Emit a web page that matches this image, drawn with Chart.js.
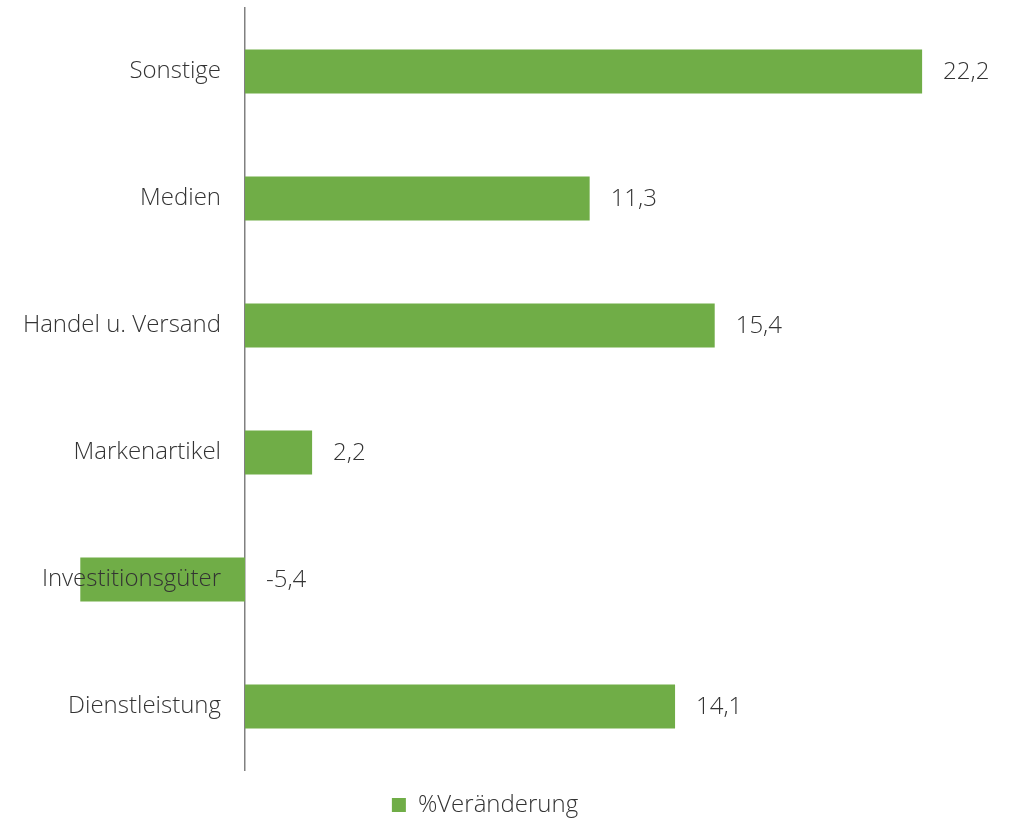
<!DOCTYPE html>
<html><head><meta charset="utf-8">
<script src="https://cdn.jsdelivr.net/npm/chart.js@4"></script>
<style>html,body{margin:0;padding:0;background:#fff}#wrap{width:1023px;height:819px}</style>
</head><body><div id="wrap"><canvas id="c" width="1023" height="819"></canvas></div>
<script>
const categories = ["Sonstige","Medien","Handel u. Versand","Markenartikel","Investitionsgüter","Dienstleistung"];
const values = [22.2, 11.3, 15.4, 2.2, -5.4, 14.1];
const seriesName = "%Veränderung";
const FONT = "'Open Sans', sans-serif";
const TEXT = "#333333";

const valueLabels = {
  id: 'valueLabels',
  afterDatasetsDraw(chart) {
    const ctx = chart.ctx;
    const meta = chart.getDatasetMeta(0);
    const x0 = chart.scales.x.getPixelForValue(0);
    ctx.save();
    ctx.font = "300 24px " + FONT;
    ctx.fillStyle = TEXT;
    ctx.textAlign = 'left';
    ctx.textBaseline = 'middle';
    meta.data.forEach((bar, i) => {
      const v = values[i];
      const x = Math.max(bar.x, x0) + 21;
      ctx.fillText(v.toFixed(1).replace('.', ','), x, bar.y + 1);
    });
    ctx.restore();
  }
};

new Chart(document.getElementById('c'), {
  type: 'bar',
  data: {
    labels: categories,
    datasets: [{
      label: seriesName,
      data: values,
      backgroundColor: '#70ad47',
      borderWidth: 0,
      barPercentage: 0.69,
      categoryPercentage: 0.5,
      clip: false
    }]
  },
  options: {
    indexAxis: 'y',
    responsive: false,
    animation: false,
    layout: { padding: { top: 8, right: 53, left: 0, bottom: -8 } },
    plugins: {
      legend: {
        position: 'bottom',
        labels: {
          boxWidth: 14, boxHeight: 14, padding: 23,
          font: { family: FONT, size: 24, weight: '300' },
          color: TEXT
        }
      },
      tooltip: { enabled: false }
    },
    scales: {
      x: { display: false, min: 0, max: 23.77 },
      y: {
        grid: { display: false, drawTicks: false },
        border: { display: true, color: '#808080', width: 1.5 },
        ticks: { z: 1, padding: 24, font: { family: FONT, size: 24, weight: '300' }, color: TEXT },
        afterFit(scale) { scale.width = 245; scale.paddingTop = 0; scale.paddingBottom = 0; }
      }
    }
  },
  plugins: [valueLabels]
});
</script></body></html>
